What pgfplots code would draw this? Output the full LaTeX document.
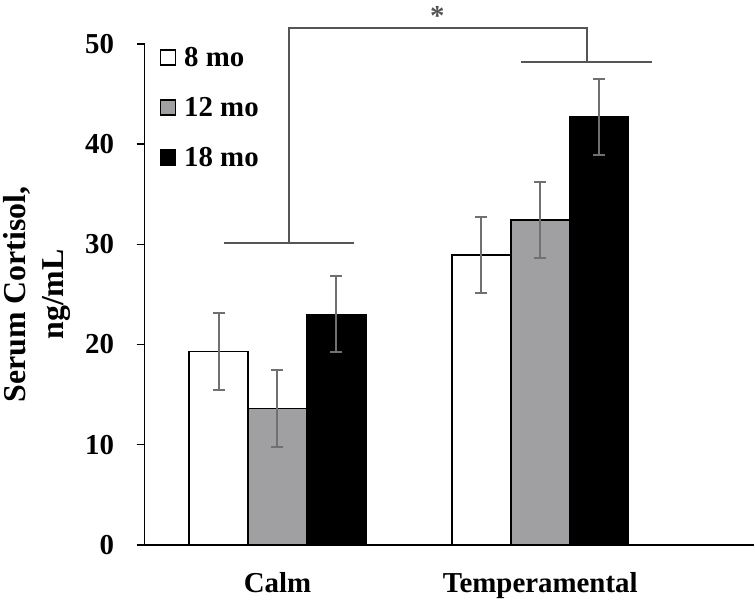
\documentclass[border=0pt]{standalone}
\usepackage{pgfplots}
\pgfplotsset{compat=1.18}
\usepackage{pgfplotstable}
\usepackage{fontspec}
\setmainfont{Liberation Serif}
\definecolor{barGray}{RGB}{160,160,162}
\definecolor{errGray}{RGB}{112,112,112}
\definecolor{brkGray}{RGB}{85,85,85}

\pgfplotstableread{
x y err
0 19.3 3.8
1 28.9 3.8
}\eightmo
\pgfplotstableread{
x y err
0 13.6 3.8
1 32.4 3.8
}\twelvemo
\pgfplotstableread{
x y err
0 23.0 3.8
1 42.7 3.8
}\eighteenmo

\begin{document}
\begin{tikzpicture}
\begin{axis}[
  scale only axis, width=610bp, height=501bp,
  xmin=-0.506, xmax=1.814, ymin=0, ymax=50,
  axis x line=bottom, axis y line=left,
  axis line style={-, line width=1.6bp, black},
  xtick={0,1}, xticklabels={Calm,Temperamental},
  x tick style={draw=none},
  xticklabel style={font=\fontsize{29}{32}\selectfont\bfseries, inner ysep=3.5bp, yshift=-16bp},
  ytick={0,10,20,30,40,50},
  y tick style={line width=1.6bp, black},
  tick align=outside, major tick length=8bp,
  yticklabel style={font=\fontsize{29}{32}\selectfont\bfseries, xshift=-19bp},
  /pgf/number format/assume math mode=true,
  ylabel={Serum Cortisol,\\ng/mL},
  ylabel style={align=center, font=\fontsize{32}{38}\selectfont\bfseries, yshift=8bp},
  ybar=0pt, bar width=0.224,
  clip=false,
  legend style={draw=none, fill=none, at={(axis cs:-0.449,49.9)}, anchor=north west,
    font=\fontsize{29}{32}\selectfont\bfseries, row sep=25.3bp, inner sep=0pt,
    /tikz/every odd column/.append style={column sep=6bp}},
  legend cell align=left,
  legend image code/.code={\draw[#1, draw=black, line width=1.5bp] (0bp,-7.5bp) rectangle (15bp,7.5bp);},
  error bars/error bar style={errGray, line width=2bp},
  error bars/error mark options={rotate=90, mark size=6bp, errGray, line width=2bp},
]
\addplot[fill=white, draw=black, line width=1.8bp, bar shift=-0.224,
  error bars/.cd, y dir=both, y explicit] table[x=x, y=y, y error=err] {\eightmo};
\addlegendentry{8 mo}
\addplot[fill=barGray, draw=black, line width=1.8bp, bar shift=0,
  error bars/.cd, y dir=both, y explicit] table[x=x, y=y, y error=err] {\twelvemo};
\addlegendentry{12 mo}
\addplot[fill=black, draw=black, line width=1.8bp, bar shift=0.224,
  error bars/.cd, y dir=both, y explicit] table[x=x, y=y, y error=err] {\eighteenmo};
\addlegendentry{18 mo}
\addplot[sharp plot, brkGray, line width=2bp, forget plot] coordinates {(-0.205,30.14) (0.293,30.14)};
\addplot[sharp plot, brkGray, line width=2bp, forget plot] coordinates {(0.043,30.14) (0.043,51.57) (1.176,51.57) (1.176,48.17)};
\addplot[sharp plot, brkGray, line width=2bp, forget plot] coordinates {(0.927,48.17) (1.425,48.17)};
\node[anchor=base, font=\fontsize{29}{32}\selectfont\bfseries, text=brkGray, inner sep=0pt, text height=25.7bp] at (axis cs:0.608,51.83) {*};
\end{axis}
\end{tikzpicture}
\end{document}
